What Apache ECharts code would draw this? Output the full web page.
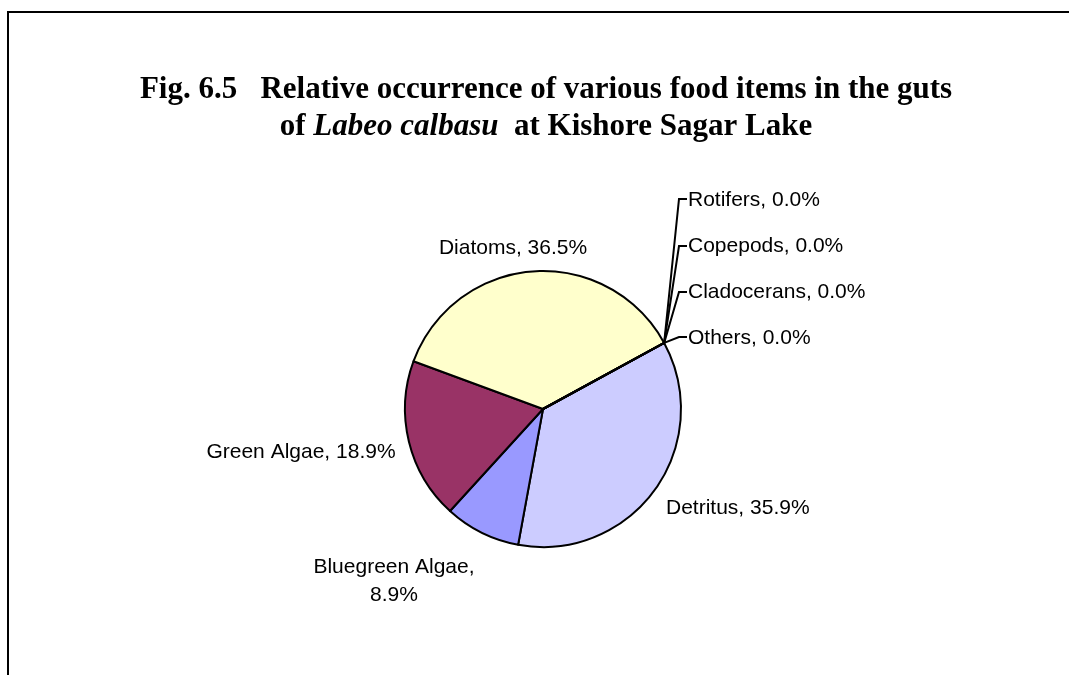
<!DOCTYPE html>
<html>
<head>
<meta charset="utf-8">
<script src="https://cdn.jsdelivr.net/npm/echarts@6/dist/echarts.min.js"></script>
<style>
html,body{margin:0;padding:0;background:#fff;}
#chart{width:1069px;height:675px;}
</style>
</head>
<body>
<div id="chart"></div>
<script>
// Data (percent of gut contents), in clockwise drawing order
const categories = ['Detritus', 'Bluegreen Algae', 'Green Algae', 'Diatoms', 'Others', 'Cladocerans', 'Copepods', 'Rotifers'];
const values = [35.9, 8.9, 18.9, 36.5, 0.0, 0.0, 0.0, 0.0];
const colors = ['#CCCCFF', '#9999FF', '#993366', '#FFFFCC', '#CCFFFF', '#FF8080', '#0066CC', '#FFFFFF'];
const titleLine1 = 'Fig. 6.5   Relative occurrence of various food items in the guts';
const titleLine2a = 'of ';
const titleLine2b = 'Labeo calbasu';
const titleLine2c = '  at Kishore Sagar Lake';

const chart = echarts.init(document.getElementById('chart'), null, {renderer: 'canvas'});

// label placement (style, not data)
const labelPos = {
  'Detritus':        {x: 666, y: 508, align: 'left'},
  'Bluegreen Algae': {x: 394, y: 581, align: 'center'},
  'Green Algae':     {x: 301, y: 452, align: 'center'},
  'Diatoms':         {x: 513, y: 248, align: 'center'},
  'Others':          {x: 688, y: 338, align: 'left', ly: 337},
  'Cladocerans':     {x: 688, y: 292, align: 'left', ly: 292},
  'Copepods':        {x: 688, y: 246, align: 'left', ly: 246},
  'Rotifers':        {x: 688, y: 200, align: 'left', ly: 199}
};

const data = categories.map((name, i) => ({
  name: name,
  value: values[i],
  itemStyle: {color: colors[i]},
  labelLine: {show: values[i] === 0}
}));

const serif = '"Liberation Serif", "Times New Roman", serif';

chart.setOption({
  animation: false,
  backgroundColor: '#ffffff',
  title: {
    left: 541,
    top: 66,
    textAlign: 'center',
    text: '{b|' + titleLine1 + '}\n{b|' + titleLine2a + '}{i|' + titleLine2b + '}{b|' + titleLine2c + '}',
    textStyle: {
      rich: {
        b: {fontFamily: serif, fontWeight: 'bold', fontSize: 31, color: '#000', lineHeight: 37},
        i: {fontFamily: serif, fontWeight: 'bold', fontStyle: 'italic', fontSize: 31, color: '#000', lineHeight: 37}
      }
    }
  },
  graphic: [{
    type: 'rect',
    shape: {x: 8, y: 12, width: 1200, height: 800},
    style: {fill: 'none', stroke: '#000', lineWidth: 2},
    silent: true,
    z: 100
  }],
  series: [{
    type: 'pie',
    center: [543, 409],
    radius: 138,
    startAngle: 28.6,
    clockwise: true,
    avoidLabelOverlap: false,
    minShowLabelAngle: -1,
    itemStyle: {borderColor: '#000', borderWidth: 2},
    emphasis: {disabled: true},
    label: {
      show: true,
      position: 'outside',
      color: '#000',
      fontFamily: '"Liberation Sans", Arial, sans-serif',
      fontSize: 21,
      lineHeight: 28,
      formatter: function (p) {
        if (p.name === 'Bluegreen Algae') return p.name + ',\n' + p.value.toFixed(1) + '%';
        return p.name + ', ' + p.value.toFixed(1) + '%';
      }
    },
    labelLine: {
      show: true,
      length: 10,
      length2: 10,
      lineStyle: {color: '#000', width: 2}
    },
    labelLayout: function (params) {
      const name = categories[params.dataIndex];
      const pos = labelPos[name];
      const out = {x: pos.x, y: pos.y, align: pos.align, verticalAlign: 'middle'};
      if (pos.ly !== undefined && params.labelLinePoints) {
        const p0 = params.labelLinePoints[0];
        out.labelLinePoints = [[p0[0], p0[1]], [pos.x - 9, pos.ly], [pos.x - 1, pos.ly]];
      }
      return out;
    },
    data: data
  }]
});
</script>
</body>
</html>
